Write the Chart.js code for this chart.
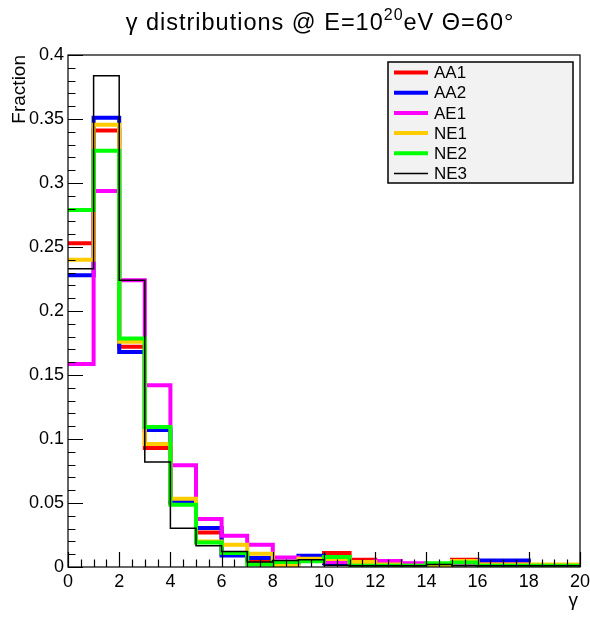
<!DOCTYPE html>
<html>
<head>
<meta charset="utf-8">
<script src="https://cdn.jsdelivr.net/npm/chart.js@4.4.1/dist/chart.umd.min.js"></script>
<style>
    html, body { margin: 0; padding: 0; background: #fff; }
    #wrap { width: 590px; height: 617px; }
</style>
</head>
<body>
<div id="wrap"><canvas id="gammaChart" width="590" height="617"></canvas></div>
<script>
// bin edges of the gamma histogram (20 bins of width 1)
const binEdges = [0, 1, 2, 3, 4, 5, 6, 7, 8, 9, 10, 11, 12, 13, 14, 15, 16, 17, 18, 19, 20];

// fraction per bin
const aa1 = [0.253, 0.341, 0.172, 0.093, 0.050, 0.027, 0.010, 0.005, 0.004, 0.006, 0.011, 0.0057, 0.002, 0.001, 0.001, 0.0057, 0.004, 0.004, 0.001, 0.001];
const aa2 = [0.228, 0.351, 0.168, 0.107, 0.051, 0.0305, 0.009, 0.007, 0.003, 0.0088, 0.003, 0.003, 0.002, 0.001, 0.001, 0.004, 0.005, 0.005, 0.001, 0.001];
const ae1 = [0.1586, 0.2937, 0.224, 0.142, 0.0794, 0.0375, 0.0245, 0.0174, 0.0075, 0.005, 0.004, 0.003, 0.0047, 0.003, 0.0005, 0.003, 0.002, 0.002, 0.001, 0.001];
const ne1 = [0.240, 0.3455, 0.176, 0.0961, 0.0534, 0.020, 0.0174, 0.0104, 0.001, 0.0065, 0.0062, 0.004, 0.002, 0.001, 0.001, 0.0047, 0.002, 0.002, 0.002, 0.002];
const ne2 = [0.279, 0.3252, 0.1786, 0.1094, 0.0487, 0.0192, 0.011, 0.002, 0.004, 0.0044, 0.0078, 0.001, 0.001, 0.001, 0.003, 0.0036, 0.001, 0.001, 0.001, 0.001];
const ne3 = [0.233, 0.3838, 0.224, 0.082, 0.0302, 0.0166, 0.0122, 0.004, 0.005, 0.0057, 0.0013, 0.001, 0.001, 0.001, 0.002, 0.001, 0.001, 0.001, 0.001, 0.001];

const seriesNames = ['AA1', 'AA2', 'AE1', 'NE1', 'NE2', 'NE3'];
const seriesValues = [aa1, aa2, ae1, ne1, ne2, ne3];
const seriesColors = ['#ff0000', '#0000ff', '#ff00ff', '#ffcc00', '#00ff00', '#000000'];
const seriesWidths = [4, 4, 4, 4, 4, 1.5];

const FONT = '"Liberation Sans", Arial, Helvetica, sans-serif';

// step histogram: point i carries bin i (flat to the next edge), last bin repeated at x = 20
function toSteps(values) {
    return binEdges.map((x, i) => ({ x: x, y: values[Math.min(i, values.length - 1)] }));
}

const datasets = seriesNames.map((name, i) => ({
    label: name,
    data: toSteps(seriesValues[i]),
    borderColor: seriesColors[i],
    backgroundColor: seriesColors[i],
    borderWidth: seriesWidths[i],
    stepped: 'before',
    pointRadius: 0,
    fill: false,
    order: seriesNames.length - i   // later series drawn on top, like ROOT
}));

// frame, inward ticks, legend box, axis titles and title in ROOT style
const rootStyle = {
    id: 'rootStyle',
    afterDatasetsDraw(chart) {
        const ctx = chart.ctx;
        const area = chart.chartArea;
        const xs = chart.scales.x;
        const ys = chart.scales.y;
        ctx.save();
        ctx.strokeStyle = '#000';
        ctx.lineWidth = 1.2;
        ctx.strokeRect(area.left, area.top, area.right - area.left, area.bottom - area.top);

        ctx.beginPath();
        for (let v = 0; v <= 20.0001; v += 0.5) {
            const px = Math.round(xs.getPixelForValue(v)) + 0.5;
            const len = Math.abs(v % 2) < 1e-6 ? 15 : 7.5;
            ctx.moveTo(px, area.bottom);
            ctx.lineTo(px, area.bottom - len);
        }
        for (let k = 0; k <= 40; k++) {
            const py = Math.round(ys.getPixelForValue(k * 0.01)) + 0.5;
            const len = k % 5 === 0 ? 15 : 7.5;
            ctx.moveTo(area.left, py);
            ctx.lineTo(area.left + len, py);
        }
        ctx.stroke();

        // legend
        const lx = 388, ly = 62, lw = 185, lh = 121;
        ctx.fillStyle = '#f2f2f2';
        ctx.fillRect(lx, ly, lw, lh);
        ctx.lineWidth = 1.5;
        ctx.strokeRect(lx, ly, lw, lh);
        ctx.font = '17px ' + FONT;
        ctx.textBaseline = 'middle';
        ctx.textAlign = 'left';
        chart.data.datasets.forEach((ds, i) => {
            const cy = 72.5 + i * 20.2;
            ctx.beginPath();
            ctx.strokeStyle = ds.borderColor;
            ctx.lineWidth = ds.borderWidth;
            ctx.moveTo(394, cy);
            ctx.lineTo(428, cy);
            ctx.stroke();
            ctx.fillStyle = '#000';
            ctx.fillText(ds.label, 434, cy + 1);
        });

        // axis titles
        ctx.fillStyle = '#000';
        ctx.font = '19px ' + FONT;
        ctx.save();
        ctx.translate(25, area.top);
        ctx.rotate(-Math.PI / 2);
        ctx.textAlign = 'right';
        ctx.textBaseline = 'alphabetic';
        ctx.fillText('Fraction', 0, 0);
        ctx.restore();
        ctx.textAlign = 'right';
        ctx.textBaseline = 'alphabetic';
        ctx.fillText('γ', area.right - 2, 606);

        // title with superscript
        const parts = [['γ distributions @ E=10', 23.5, 0], ['20', 16, -10], ['eV Θ=60°', 23.5, 0]];
        ctx.letterSpacing = '1px';
        let total = 0;
        parts.forEach(p => { ctx.font = p[1] + 'px ' + FONT; total += ctx.measureText(p[0]).width; });
        let x = 320 - total / 2;
        ctx.textAlign = 'left';
        parts.forEach(p => {
            ctx.font = p[1] + 'px ' + FONT;
            ctx.fillText(p[0], x, 29.5 + p[2]);
            x += ctx.measureText(p[0]).width;
        });
        ctx.restore();
    }
};

new Chart(document.getElementById('gammaChart').getContext('2d'), {
    type: 'line',
    data: { datasets: datasets },
    options: {
        responsive: false,
        devicePixelRatio: 1,
        animation: false,
        layout: { padding: { left: 0, top: 55, right: 10, bottom: 0 } },
        plugins: {
            legend: { display: false },
            title: { display: false },
            tooltip: { enabled: false }
        },
        scales: {
            x: {
                type: 'linear',
                min: 0,
                max: 20,
                grid: { display: false, drawTicks: false },
                border: { display: false },
                afterFit: function(scale) {
                    scale.height = 50;
                    scale.paddingLeft = 0;
                    scale.paddingRight = 0;
                },
                ticks: {
                    stepSize: 2,
                    autoSkip: false,
                    maxRotation: 0,
                    padding: 4,
                    color: '#000',
                    font: { family: FONT, size: 18 },
                    callback: function(value) { return value; }
                }
            },
            y: {
                min: 0,
                max: 0.4,
                grid: { display: false, drawTicks: false },
                border: { display: false },
                afterFit: function(scale) { scale.width = 68; },
                ticks: {
                    stepSize: 0.05,
                    padding: 4,
                    color: '#000',
                    font: { family: FONT, size: 18 },
                    callback: function(value) { return String(+value.toFixed(2)); }
                }
            }
        }
    },
    plugins: [rootStyle]
});
</script>
</body>
</html>
